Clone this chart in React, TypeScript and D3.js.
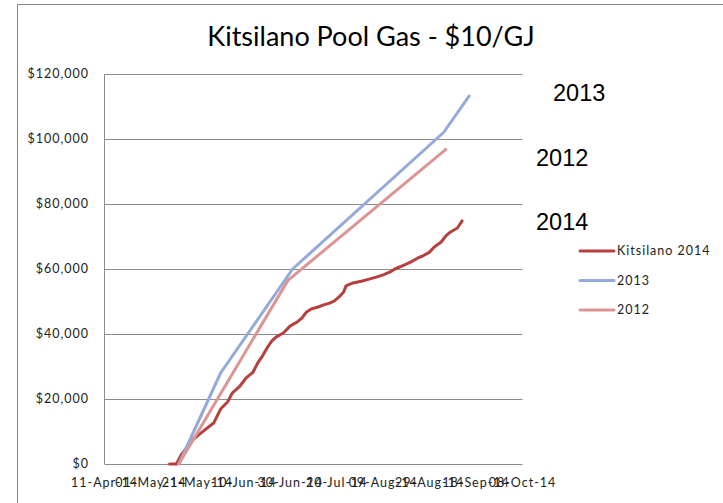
import * as d3 from "d3";

const parse = d3.timeParse("%Y-%m-%d");

// Kitsilano 2014 cumulative gas cost
const kits2014Dates = [
  "2014-05-09", "2014-05-12", "2014-05-14", "2014-05-19", "2014-05-23", "2014-05-28",
  "2014-05-31", "2014-06-03", "2014-06-05", "2014-06-08", "2014-06-11", "2014-06-14",
  "2014-06-16", "2014-06-18", "2014-06-20", "2014-06-22", "2014-06-24", "2014-06-27",
  "2014-06-30", "2014-07-03", "2014-07-05", "2014-07-07", "2014-07-09", "2014-07-12",
  "2014-07-14", "2014-07-17", "2014-07-19", "2014-07-21", "2014-07-23", "2014-07-24",
  "2014-07-27", "2014-07-29", "2014-07-31", "2014-08-03", "2014-08-06", "2014-08-09",
  "2014-08-12", "2014-08-14", "2014-08-18", "2014-08-21", "2014-08-24", "2014-08-26",
  "2014-08-29", "2014-08-31", "2014-09-03", "2014-09-05", "2014-09-07", "2014-09-10",
  "2014-09-12",
];
const kits2014Values = [
  0, 0, 2800, 7400, 9800, 12600,
  16900, 19100, 21800, 23700, 26500, 28300,
  31100, 33200, 35700, 37800, 39100, 40300,
  42500, 43700, 44900, 46800, 47700, 48300,
  48900, 49500, 50200, 51400, 52900, 54800,
  55700, 56000, 56300, 56900, 57500, 58200,
  59100, 60000, 61200, 62200, 63400, 64000,
  65200, 66800, 68300, 70200, 71400, 72600,
  74800,
];

const dates2013 = ["2014-05-13", "2014-05-31", "2014-07-01", "2014-09-04", "2014-09-15"];
const values2013 = [0, 28000, 60000, 102000, 113200];

const dates2012 = ["2014-05-13", "2014-06-29", "2014-09-05"];
const values2012 = [0, 56500, 96800];

const seriesNames = ["Kitsilano 2014", "2013", "2012"];
const seriesColors = ["#B5403E", "#93AADA", "#DB9694"];
const sideLabels = ["2013", "2012", "2014"];

const xTickDates = [
  "2014-04-11", "2014-05-01", "2014-05-21", "2014-06-10", "2014-06-30",
  "2014-07-20", "2014-08-09", "2014-08-29", "2014-09-18", "2014-10-08",
];
const yTicks = [0, 20000, 40000, 60000, 80000, 100000, 120000];

const W = 723;
const H = 503;
const left = 104.5;
const right = 522.5;
const top = 74;
const bottom = 464;

export default function App() {
  const x = d3
    .scaleTime()
    .domain([parse(xTickDates[0])!, parse(xTickDates[xTickDates.length - 1])!])
    .range([left, right]);
  const y = d3.scaleLinear().domain([0, 120000]).range([bottom, top]);

  const line = d3
    .line<[Date, number]>()
    .x((d) => x(d[0]))
    .y((d) => y(d[1]));

  const series = [
    d3.zip(kits2014Dates, kits2014Values),
    d3.zip(dates2013, values2013),
    d3.zip(dates2012, values2012),
  ].map((s) => s.map((d) => [parse(d[0] as string)!, d[1] as number] as [Date, number]));

  const fmtDate = d3.timeFormat("%d-%b-%y");
  const fmtMoney = (v: number) => "$" + d3.format(",")(v);
  const tickFont = "Lato, 'Open Sans', sans-serif";
  const gridColor = "#8c8c8c";

  // side labels sit next to the end of each series
  const sideY = [101, 166, 230];
  const sideX = [553, 536, 536];

  return (
    <svg
      width={W}
      height={H}
      style={{ position: "absolute", left: 0, top: 0, background: "#fff" }}
    >
      {/* chart frame */}
      <line x1={17} x2={W} y1={4.5} y2={4.5} stroke="#8a8a8a" />
      <line x1={17.5} x2={17.5} y1={4} y2={H} stroke="#8a8a8a" />

      <text
        x={371}
        y={46}
        textAnchor="middle"
        fontFamily={tickFont}
        fontSize={27}
        fill="#000"
      >
        Kitsilano Pool Gas - $10/GJ
      </text>

      {yTicks.map((t) => (
        <g key={t}>
          <line
            x1={left}
            x2={right}
            y1={Math.round(y(t)) + 0.5}
            y2={Math.round(y(t)) + 0.5}
            stroke={gridColor}
          />
          <text
            x={89}
            y={y(t)}
            dy="0.35em"
            textAnchor="end"
            fontFamily={tickFont}
            fontSize={12.5}
            letterSpacing={1}
            fill="#222"
          >
            {fmtMoney(t)}
          </text>
        </g>
      ))}
      <line x1={left} x2={left} y1={top} y2={bottom} stroke={gridColor} />

      {xTickDates.map((d) => (
        <text
          key={d}
          x={x(parse(d)!)}
          y={487}
          textAnchor="middle"
          fontFamily={tickFont}
          fontSize={12.5}
          letterSpacing={1}
          fill="#222"
        >
          {fmtDate(parse(d)!)}
        </text>
      ))}

      {series.map((s, i) => (
        <path
          key={i}
          d={line(s) ?? ""}
          fill="none"
          stroke={seriesColors[i]}
          strokeWidth={3}
          strokeLinejoin="round"
          strokeLinecap="round"
        />
      ))}

      {seriesNames.map((n, i) => (
        <g key={n} transform={`translate(580, ${251 + i * 29.5})`}>
          <line x1={0} x2={34} y1={0} y2={0} stroke={seriesColors[i]} strokeWidth={3} strokeLinecap="round" />
          <text x={37} y={0} dy="0.35em" fontFamily={tickFont} fontSize={12.5} letterSpacing={1} fill="#222">
            {n}
          </text>
        </g>
      ))}

      {sideLabels.map((l, i) => (
        <text
          key={l}
          x={sideX[i]}
          y={sideY[i]}
          fontFamily="'Liberation Sans', Arial, sans-serif"
          fontSize={23.5}
          fill="#000"
        >
          {l}
        </text>
      ))}
    </svg>
  );
}
